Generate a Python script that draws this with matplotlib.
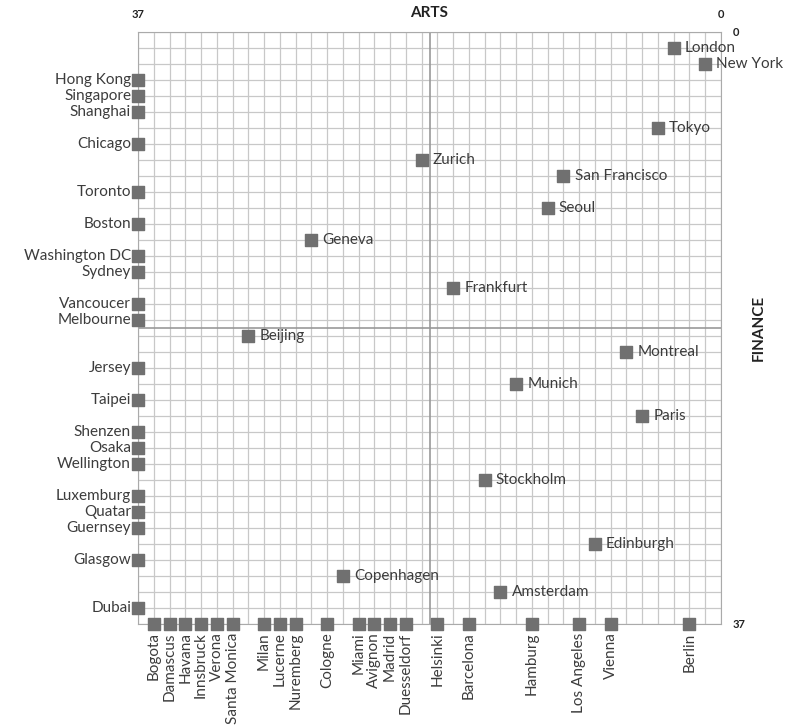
import matplotlib.pyplot as plt

plt.rcParams["font.family"] = ["Lato", "DejaVu Sans"]

# cities on the left edge (arts rank 37), with finance rank
left_names = ["Hong Kong", "Singapore", "Shanghai", "Chicago", "Toronto", "Boston",
              "Washington DC", "Sydney", "Vancoucer", "Melbourne", "Jersey", "Taipei",
              "Shenzen", "Osaka", "Wellington", "Luxemburg", "Quatar", "Guernsey",
              "Glasgow", "Dubai"]
left_finance = [3, 4, 5, 7, 10, 12, 14, 15, 17, 18, 21, 23, 25, 26, 27, 29, 30, 31, 33, 36]

# cities on the bottom edge (finance rank 37), with arts rank
bottom_names = ["Bogota", "Damascus", "Havana", "Innsbruck", "Verona", "Santa Monica",
                "Milan", "Lucerne", "Nuremberg", "Cologne", "Miami", "Avignon", "Madrid",
                "Duesseldorf", "Helsinki", "Barcelona", "Hamburg", "Los Angeles",
                "Vienna", "Berlin"]
bottom_arts = [36, 35, 34, 33, 32, 31, 29, 28, 27, 25, 23, 22, 21, 20, 18, 16, 12, 9, 7, 2]

# cities ranked in both
mid_names = ["London", "New York", "Tokyo", "Zurich", "San Francisco", "Seoul", "Geneva",
             "Frankfurt", "Beijing", "Montreal", "Munich", "Paris", "Stockholm",
             "Edinburgh", "Copenhagen", "Amsterdam"]
mid_arts = [3, 1, 4, 19, 10, 11, 26, 17, 30, 6, 13, 5, 15, 8, 24, 14]
mid_finance = [1, 2, 6, 8, 9, 11, 13, 16, 19, 20, 22, 24, 28, 32, 34, 35]

grey = "#707070"
txt = "#3c3c3c"

fig = plt.figure(figsize=(7.94, 7.28), dpi=100)
ax = fig.add_axes([138 / 794, 1 - 624 / 728, 583 / 794, 592 / 728])
ax.set_xlim(37, 0)
ax.set_ylim(37, 0)

for v in range(38):
    ax.axvline(v, color="#c8c8c8", lw=0.9, zorder=0)
    ax.axhline(v, color="#c8c8c8", lw=0.9, zorder=0)
ax.axvline(18.5, color="#999999", lw=1.2, zorder=1)
ax.axhline(18.5, color="#999999", lw=1.2, zorder=1)
for s in ax.spines.values():
    s.set_color("#aaaaaa")
ax.set_xticks([])
ax.set_yticks([])

ms = 72
ax.scatter([37] * len(left_finance), left_finance, marker="s", s=ms, color=grey,
           clip_on=False, zorder=3)
ax.scatter(bottom_arts, [37] * len(bottom_arts), marker="s", s=ms, color=grey,
           clip_on=False, zorder=3)
ax.scatter(mid_arts, mid_finance, marker="s", s=ms, color=grey, clip_on=False, zorder=3)

for n, y in zip(left_names, left_finance):
    ax.annotate(n, (37, y), xytext=(-5, 0), textcoords="offset points",
                ha="right", va="center", fontsize=11, color=txt)
for n, x in zip(bottom_names, bottom_arts):
    ax.annotate(n, (x, 37), xytext=(0, -6), textcoords="offset points",
                ha="center", va="top", rotation=90, fontsize=11, color=txt)
for n, x, y in zip(mid_names, mid_arts, mid_finance):
    ax.annotate(n, (x, y), xytext=(8, 0), textcoords="offset points",
                ha="left", va="center", fontsize=11, color=txt)

ax.text(0.5, 1.02, "ARTS", transform=ax.transAxes, ha="center", va="bottom",
        fontsize=11, fontweight="bold", color="#222222")
ax.text(0, 1.02, "37", transform=ax.transAxes, ha="center", va="bottom",
        fontsize=8, fontweight="bold", color="#222222")
ax.text(1, 1.02, "0", transform=ax.transAxes, ha="center", va="bottom",
        fontsize=8, fontweight="bold", color="#222222")
ax.text(1.02, 1.0, "0", transform=ax.transAxes, ha="left", va="center",
        fontsize=8, fontweight="bold", color="#222222")
ax.text(1.02, 0.0, "37", transform=ax.transAxes, ha="left", va="center",
        fontsize=8, fontweight="bold", color="#222222")
ax.text(1.065, 0.5, "FINANCE", transform=ax.transAxes, ha="center", va="center",
        rotation=90, fontsize=11, fontweight="bold", color="#222222")

fig.savefig("out.png", dpi=100)
